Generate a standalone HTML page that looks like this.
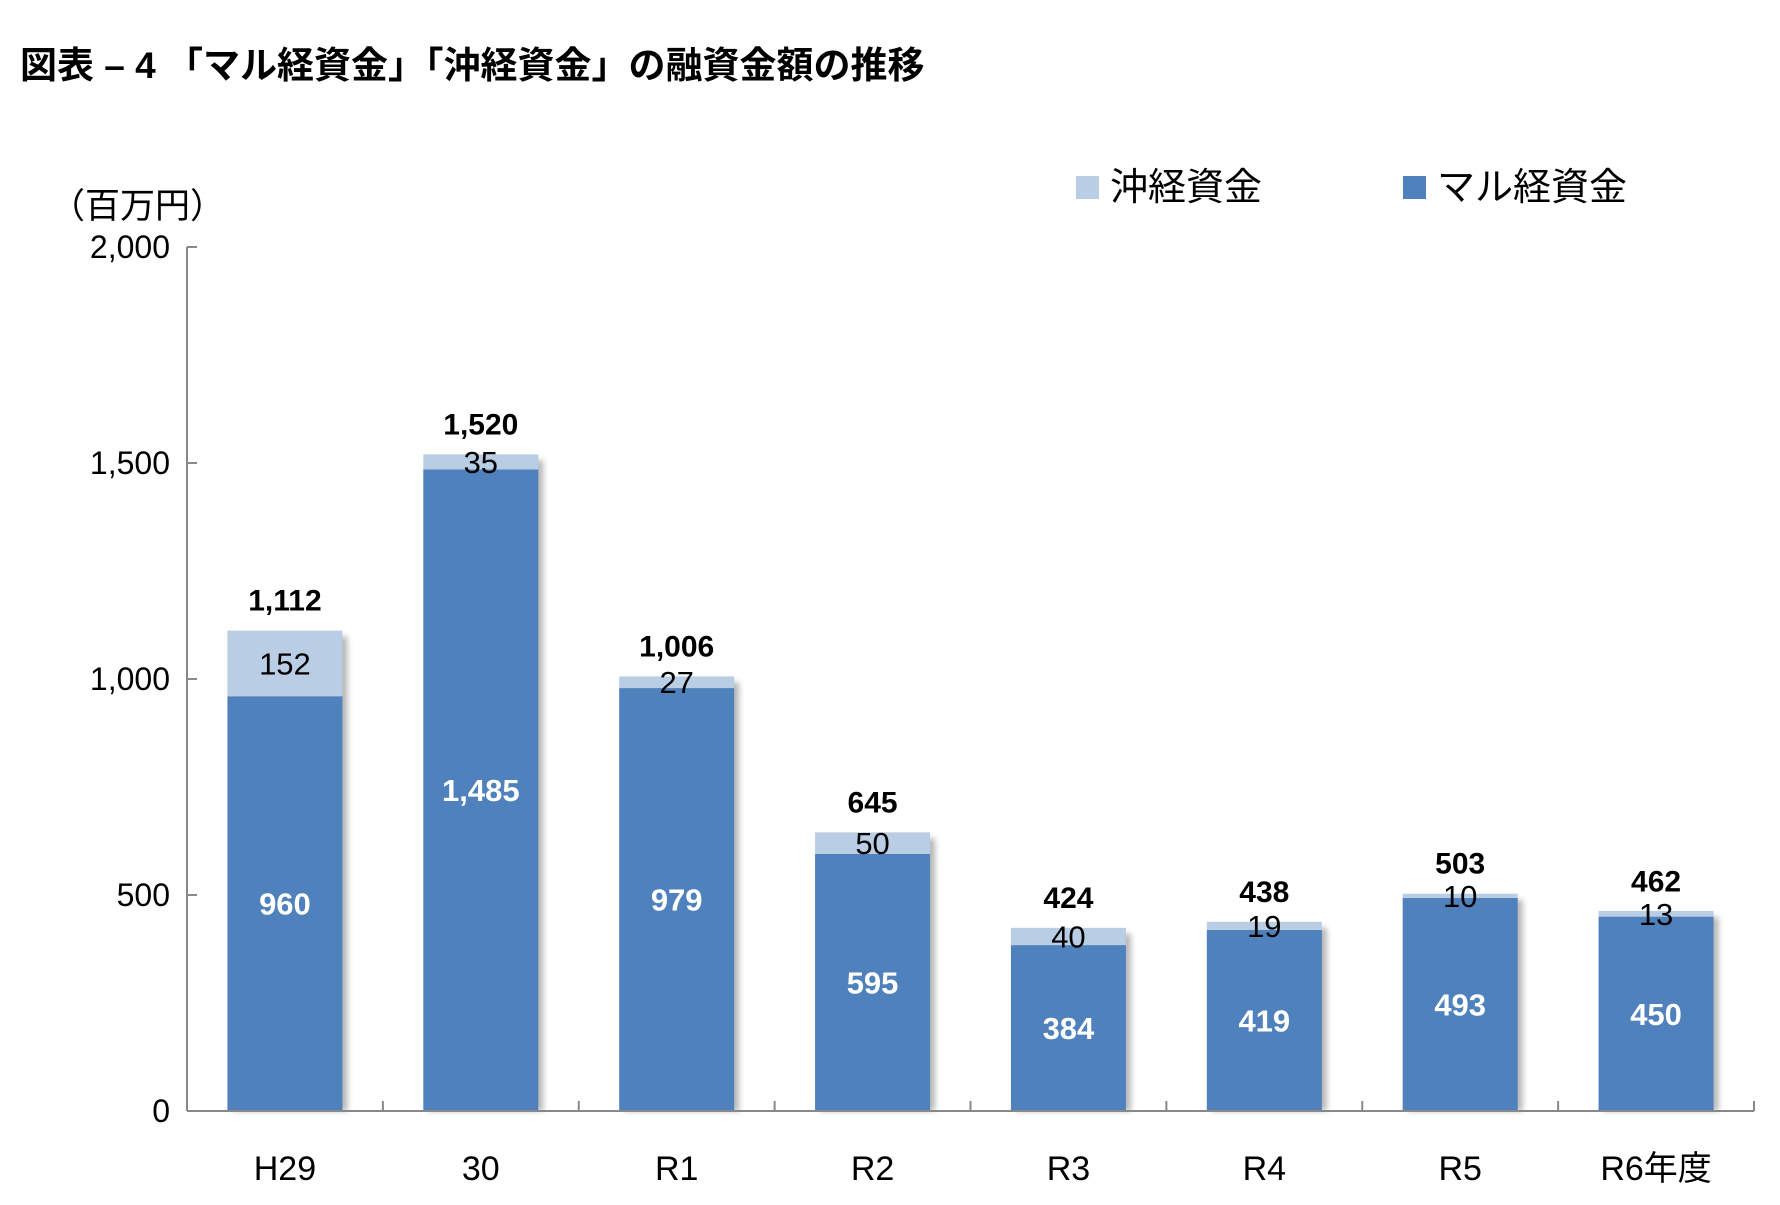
<!DOCTYPE html>
<html><head><meta charset="utf-8"><style>
body{margin:0;background:#fff;}
svg text{font-family:"Liberation Sans","Noto Sans CJK JP",sans-serif;}
</style></head><body>
<svg id="chart" width="1780" height="1200" xmlns="http://www.w3.org/2000/svg">
<defs><filter id="sh" x="-10%" y="-5%" width="130%" height="115%"><feGaussianBlur stdDeviation="3"/></filter></defs>
<text x="20" y="78" font-size="37" font-weight="bold" fill="#000">図表 – 4 「マル経資金」「沖経資金」の融資金額の推移</text>
<text x="50" y="218" font-size="35" fill="#000">（百万円）</text>
<rect x="1076" y="176" width="23" height="23" fill="#B9CDE5"/>
<text x="1110" y="200" font-size="38" fill="#000">沖経資金</text>
<rect x="1403" y="176" width="23" height="23" fill="#4F81BD"/>
<text x="1437" y="200" font-size="38" fill="#000">マル経資金</text>
<g id="plot"></g>
</svg>
<script>
const categories=["H29","30","R1","R2","R3","R4","R5","R6年度"];
const maruValues=[960,1485,979,595,384,419,493,450];
const okiValues=[152,35,27,50,40,19,10,13];
const totalValues=[1112,1520,1006,645,424,438,503,462];
const yTicks=[0,500,1000,1500,2000];
const NS="http://www.w3.org/2000/svg";
const X0=187,X1=1754,Y0=1111,YT=247,YMAX=2000;
const band=(X1-X0)/categories.length,bw=115;
const y=v=>Y0-(v/YMAX)*(Y0-YT);
const xc=i=>X0+band*(i+0.5);
const g=document.getElementById('plot');
function mk(tag,attrs,txt){const e=document.createElementNS(NS,tag);for(const k in attrs)e.setAttribute(k,attrs[k]);if(txt!==undefined)e.textContent=txt;g.appendChild(e);return e;}
const fmt=v=>v.toLocaleString('en-US');
yTicks.forEach(t=>{
  const tk=mk('line',{x1:X0,x2:X0+10,y1:y(t),y2:y(t),stroke:'#888','stroke-width':2});
  
  
  const lb=mk('text',{x:170,y:y(t)+11,'font-size':32,'text-anchor':'end',fill:'#000'},fmt(t));
  
  
});
categories.forEach((c,i)=>{
  const cx=xc(i),m=maruValues[i],o=okiValues[i],tot=m+o;
  const sh=mk('rect',{x:cx-bw/2+5,y:y(tot)+6,width:bw,height:Y0-y(tot)-6,fill:'#999',filter:'url(#sh)',opacity:0.7});
  
  
  const b1=mk('rect',{x:cx-bw/2,y:y(m),width:bw,height:Y0-y(m),fill:'#4F81BD'});
  
  
  const b2=mk('rect',{x:cx-bw/2,y:y(tot),width:bw,height:y(m)-y(tot),fill:'#B9CDE5'});
  
  
  const l1=mk('text',{x:cx,y:(y(m)+Y0)/2+11,'font-size':31,'font-weight':'bold','text-anchor':'middle',fill:'#fff'},fmt(m));
  
  
  const l2=mk('text',{x:cx,y:(y(m)+y(tot))/2+11,'font-size':31,'text-anchor':'middle',fill:'#000'},fmt(o));
  
  
  const l3=mk('text',{x:cx,y:y(totalValues[i])-20,'font-size':30,'font-weight':'bold','text-anchor':'middle',fill:'#000'},fmt(totalValues[i]));
  
  
  const xl=mk('text',{x:cx,y:1180,'font-size':34,'text-anchor':'middle',fill:'#000'},c);
  
  
  const xt=mk('line',{x1:X0+band*(i+1),x2:X0+band*(i+1),y1:Y0,y2:Y0-10,stroke:'#888','stroke-width':2});
  
  
});
const ya=mk('line',{x1:X0,x2:X0,y1:YT,y2:Y0,stroke:'#888','stroke-width':2});


const xa=mk('line',{x1:X0,x2:X1,y1:Y0,y2:Y0,stroke:'#888','stroke-width':2});


</script>
</body></html>
